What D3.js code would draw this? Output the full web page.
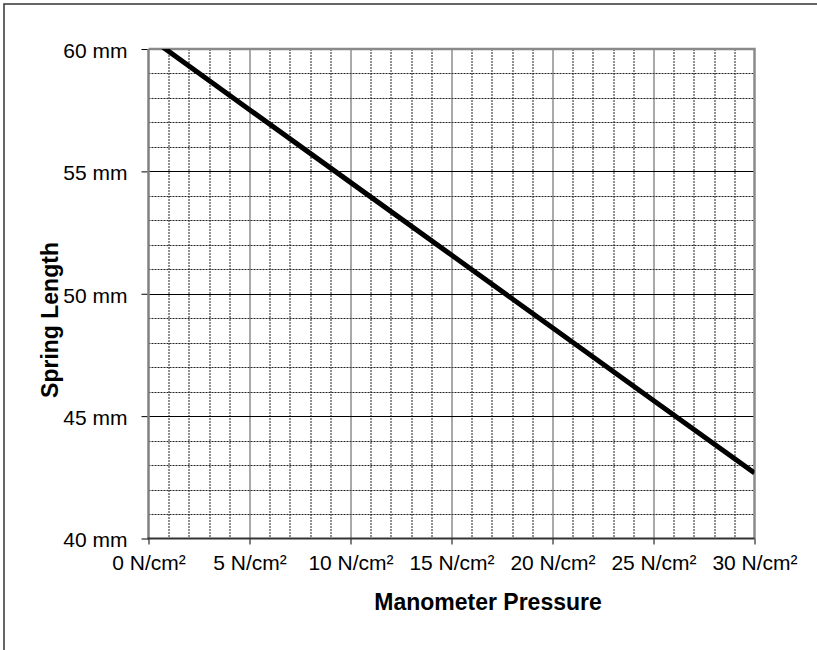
<!DOCTYPE html>
<html>
<head>
<meta charset="utf-8">
<script src="https://cdn.jsdelivr.net/npm/d3@7"></script>
<style>
  body { margin: 0; background: #fff; }
  svg text { font-family: "Liberation Sans", Arial, sans-serif; fill: #000; }
</style>
</head>
<body>
<div id="chart"></div>
<script>
// data
const pressures = [0, 5, 10, 15, 20, 25, 30];
const lengths = [60.5, 57.52, 54.55, 51.58, 48.61, 45.64, 42.68];
const xTicks = [0, 5, 10, 15, 20, 25, 30];
const yTicks = [40, 45, 50, 55, 60];
const xTitle = 'Manometer Pressure';
const yTitle = 'Spring Length';

const width = 817, height = 650;
const margin = {t: 49, r: 62.5, b: 111.5, l: 148.5};
const w = width - margin.l - margin.r;
const h = height - margin.t - margin.b;

const svg = d3.select('#chart').append('svg')
    .attr('width', width)
    .attr('height', height);

// outer frame (only top & left edges fall inside the picture)
svg.append('rect')
    .attr('x', 4).attr('y', 4)
    .attr('width', width + 20).attr('height', height + 20)
    .style('fill', 'none')
    .style('stroke', '#333')
    .style('stroke-width', 1.5);

const plot = svg.append('g')
    .attr('transform', `translate(${margin.l},${margin.t})`);

// scales
const scaleX = d3.scaleLinear().domain([0, 30]).range([0, w]);
const scaleY = d3.scaleLinear().domain([40, 60]).range([h, 0]);

// minor grid, dotted
const minorX = d3.range(0, 31).filter(d => d % 5 !== 0);
const minorY = d3.range(40, 61).filter(d => d % 5 !== 0);
plot.selectAll('.minor-x').data(minorX).enter().append('line')
    .attr('x1', d => Math.round(scaleX(d)) + 0.5).attr('x2', d => Math.round(scaleX(d)) + 0.5)
    .attr('y1', 0).attr('y2', h)
    .style('stroke', '#222').style('stroke-width', 1).style('stroke-dasharray', '2,1');
plot.selectAll('.minor-y').data(minorY).enter().append('line')
    .attr('y1', d => Math.round(scaleY(d)) + 0.5).attr('y2', d => Math.round(scaleY(d)) + 0.5)
    .attr('x1', 0).attr('x2', w)
    .style('stroke', '#222').style('stroke-width', 1).style('stroke-dasharray', '2,1');

// major grid
plot.selectAll('.major-x').data(xTicks.slice(1, -1)).enter().append('line')
    .attr('x1', d => Math.round(scaleX(d)) + 0.5).attr('x2', d => Math.round(scaleX(d)) + 0.5)
    .attr('y1', 0).attr('y2', h)
    .style('stroke', '#555').style('stroke-width', 1);
plot.selectAll('.major-y').data(yTicks.slice(1, -1)).enter().append('line')
    .attr('y1', d => Math.round(scaleY(d)) + 0.5).attr('y2', d => Math.round(scaleY(d)) + 0.5)
    .attr('x1', 0).attr('x2', w)
    .style('stroke', '#000').style('stroke-width', 1);

// plot border top & right
plot.append('path')
    .attr('d', `M0,0H${w}V${h}`)
    .style('fill', 'none').style('stroke', '#8a8a8a').style('stroke-width', 2.5);

// axes
const axisX = d3.axisBottom(scaleX)
    .tickValues(xTicks).tickSize(6).tickPadding(10)
    .tickFormat(d => `${d} N/cm²`);
const axisY = d3.axisLeft(scaleY)
    .tickValues(yTicks).tickSize(7).tickPadding(14)
    .tickFormat(d => `${d} mm`);

const gx = plot.append('g')
    .attr('transform', `translate(0,${h})`)
    .call(axisX);
gx.select('.domain').remove();
gx.selectAll('.tick line').style('stroke', '#000');
gx.selectAll('.tick text').style('font-size', '21px').attr('dy', '0.72em');

const gy = plot.append('g').call(axisY);
gy.select('.domain').remove();
gy.selectAll('.tick line').style('stroke', '#000');
gy.selectAll('.tick text').style('font-size', '21px').attr('dy', '0.4em');

// axis lines
plot.append('line')
    .attr('x1', 0).attr('x2', 0).attr('y1', 0).attr('y2', h)
    .style('stroke', '#808080').style('stroke-width', 2.5);
plot.append('line')
    .attr('x1', -1).attr('x2', w).attr('y1', h).attr('y2', h)
    .style('stroke', '#333').style('stroke-width', 2);

// the line, clipped to plot area
plot.append('clipPath').attr('id', 'clip')
    .append('rect').attr('width', w).attr('height', h);

const line = d3.line()
    .x((d, i) => scaleX(pressures[i]))
    .y(d => scaleY(d));

plot.append('path')
    .datum(lengths)
    .attr('clip-path', 'url(#clip)')
    .attr('d', line)
    .style('fill', 'none')
    .style('stroke', '#000')
    .style('stroke-width', 5);

// titles
svg.append('text')
    .attr('x', 488).attr('y', 610)
    .attr('text-anchor', 'middle')
    .style('font-size', '23px').style('font-weight', 'bold')
    .text(xTitle);
svg.append('text')
    .attr('transform', 'translate(58,320) rotate(-90)')
    .attr('text-anchor', 'middle')
    .style('font-size', '23px').style('font-weight', 'bold')
    .text(yTitle);
</script>
</body>
</html>
